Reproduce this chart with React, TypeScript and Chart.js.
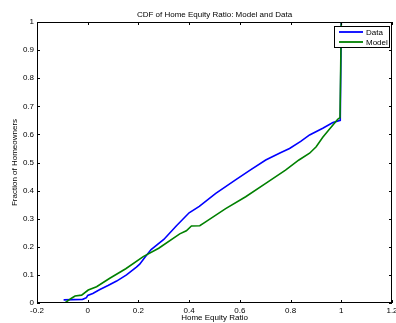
import React, { useEffect, useRef } from "react";
import { Chart, registerables } from "chart.js";

Chart.register(...registerables);

const chartTitle = "CDF of Home Equity Ratio: Model and Data";
const xAxisTitle = "Home Equity Ratio";
const yAxisTitle = "Fraction of Homeowners";
const seriesNames = ["Data", "Model"];

const dataX = [-0.095, -0.02, -0.005, 0.0, 0.02, 0.048, 0.08, 0.114, 0.153, 0.192, 0.205, 0.225, 0.25, 0.3, 0.35, 0.4, 0.44, 0.505, 0.583, 0.639, 0.702, 0.76, 0.796, 0.84, 0.875, 0.927, 0.967, 0.996, 1.0];
const dataY = [0.011, 0.013, 0.019, 0.027, 0.034, 0.048, 0.062, 0.078, 0.1, 0.128, 0.138, 0.162, 0.19, 0.226, 0.275, 0.321, 0.344, 0.39, 0.438, 0.472, 0.509, 0.535, 0.55, 0.575, 0.598, 0.622, 0.642, 0.65, 1.0];

const modelX = [-0.09, -0.064, -0.05, -0.024, 0.002, 0.035, 0.087, 0.15, 0.219, 0.28, 0.363, 0.389, 0.409, 0.442, 0.465, 0.544, 0.623, 0.702, 0.78, 0.833, 0.875, 0.901, 0.927, 0.953, 0.973, 0.986, 0.995, 1.0];
const modelY = [0, 0.017, 0.025, 0.028, 0.046, 0.058, 0.088, 0.122, 0.165, 0.195, 0.246, 0.257, 0.274, 0.275, 0.289, 0.336, 0.378, 0.426, 0.473, 0.509, 0.533, 0.556, 0.59, 0.618, 0.64, 0.654, 0.66, 1.0];

const xMin = -0.2, xMax = 1.2, xStep = 0.2;
const yMin = 0, yMax = 1, yStep = 0.1;

const FONT = "'Liberation Sans', Arial, Helvetica, sans-serif";
const BLUE = "#0000ff";
const GREEN = "#008000";

const fmt = (v: any) => {
  const n = Math.round(Number(v) * 10) / 10;
  return String(n === 0 ? 0 : n);
};

const boxPlugin = {
  id: "matlabBox",
  afterDatasetsDraw(chart: any) {
    const { ctx, chartArea, scales } = chart;
    const { left, right, top, bottom } = chartArea;
    ctx.save();
    ctx.strokeStyle = "#000";
    ctx.lineWidth = 1;
    ctx.strokeRect(left + 0.5, top + 0.5, right - left - 1, bottom - top - 1);
    const tl = 3;
    ctx.beginPath();
    scales.x.ticks.forEach((t: any) => {
      const px = Math.round(scales.x.getPixelForValue(t.value)) + 0.5;
      ctx.moveTo(px, bottom);
      ctx.lineTo(px, bottom - tl);
      ctx.moveTo(px, top);
      ctx.lineTo(px, top + tl);
    });
    scales.y.ticks.forEach((t: any) => {
      const py = Math.round(scales.y.getPixelForValue(t.value)) + 0.5;
      ctx.moveTo(left, py);
      ctx.lineTo(left + tl, py);
      ctx.moveTo(right, py);
      ctx.lineTo(right - tl, py);
    });
    ctx.stroke();

    // legend
    const lw = 56, lh = 22;
    const lx = right - 2 - lw;
    const ly = top + 4;
    ctx.fillStyle = "#fff";
    ctx.fillRect(lx, ly, lw, lh);
    ctx.strokeStyle = "#000";
    ctx.lineWidth = 1;
    ctx.strokeRect(lx + 0.5, ly + 0.5, lw - 1, lh - 1);
    const colors = [BLUE, GREEN];
    ctx.font = `8px ${FONT}`;
    ctx.textBaseline = "middle";
    ctx.textAlign = "left";
    seriesNames.forEach((name, i) => {
      const yy = ly + 6 + i * 10;
      ctx.strokeStyle = colors[i];
      ctx.lineWidth = 1.8;
      ctx.beginPath();
      ctx.moveTo(lx + 5, yy);
      ctx.lineTo(lx + 29, yy);
      ctx.stroke();
      ctx.fillStyle = "#000";
      ctx.fillText(name, lx + 32, yy + 0.5);
    });
    ctx.restore();
  },
};

export default function App() {
  const ref = useRef<HTMLCanvasElement>(null);
  useEffect(() => {
    if (!ref.current) return;
    const chart = new Chart(ref.current, {
      type: "line",
      data: {
        datasets: [
          {
            label: seriesNames[0],
            data: dataX.map((x, i) => ({ x, y: dataY[i] })),
            borderColor: BLUE,
            borderWidth: 1.6,
            pointRadius: 0,
            tension: 0,
            fill: false,
            order: 1,
          },
          {
            label: seriesNames[1],
            data: modelX.map((x, i) => ({ x, y: modelY[i] })),
            borderColor: GREEN,
            borderWidth: 1.6,
            pointRadius: 0,
            tension: 0,
            fill: false,
            order: 0,
          },
        ],
      },
      options: {
        responsive: false,
        animation: false,
        layout: { padding: { left: 0, right: 4, top: 0, bottom: 0 } },
        plugins: {
          legend: { display: false },
          tooltip: { enabled: false },
          title: {
            display: true,
            text: chartTitle,
            fullSize: false,
            color: "#000",
            font: { family: FONT, size: 8, weight: "normal" },
            padding: { top: 10, bottom: 2.4 },
          },
        },
        scales: {
          x: {
            type: "linear",
            min: xMin,
            max: xMax,
            grid: { display: false, drawTicks: false },
            border: { display: false },
            ticks: {
              stepSize: xStep,
              padding: 3,
              color: "#000",
              font: { family: FONT, size: 8 },
              maxRotation: 0,
              autoSkip: false,
              callback: (v: any) => fmt(v),
            },
            title: {
              display: true,
              text: xAxisTitle,
              color: "#000",
              font: { family: FONT, size: 8 },
              padding: { top: 0, bottom: 0 },
            },
            afterFit: (s: any) => {
              s.height = 20;
              s.paddingLeft = 0;
              s.paddingRight = 0;
            },
          },
          y: {
            type: "linear",
            min: yMin,
            max: yMax,
            grid: { display: false, drawTicks: false },
            border: { display: false },
            ticks: {
              stepSize: yStep,
              padding: 3,
              color: "#000",
              font: { family: FONT, size: 8 },
              autoSkip: false,
              callback: (v: any) => fmt(v),
            },
            title: {
              display: true,
              text: yAxisTitle,
              color: "#000",
              font: { family: FONT, size: 8 },
              padding: { top: 10, bottom: 0 },
            },
            afterFit: (s: any) => {
              s.width = 37;
              s.paddingTop = 0;
              s.paddingBottom = 0;
            },
          },
        },
      },
      plugins: [boxPlugin],
    });
    return () => chart.destroy();
  }, []);
  return (
    <div style={{ position: "fixed", left: 0, top: 0, width: 396, height: 323, background: "#fff" }}>
      <canvas ref={ref} width={396} height={323} />
    </div>
  );
}
